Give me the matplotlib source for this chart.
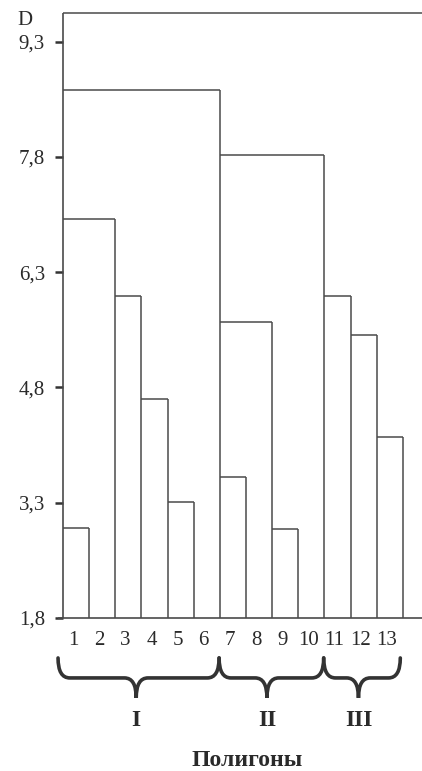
import numpy as np
import matplotlib
matplotlib.use("Agg")
import matplotlib.pyplot as plt
from matplotlib.path import Path
from matplotlib.patches import PathPatch

# --- data ---
objects = [str(i) for i in range(1, 14)]
heights = [2.97, 6.99, 5.99, 4.65, 3.31, 8.67, 3.64, 5.65, 2.96, 7.83, 5.99, 5.48, 4.15]
top_level = 9.67
y_ticks = [1.8, 3.3, 4.8, 6.3, 7.8, 9.3]
y_labels = ["1,8", "3,3", "4,8", "6,3", "7,8", "9,3"]
groups = ["I", "II", "III"]
group_spans = [(1, 6), (7, 10), (11, 13)]
y_name = "D"
x_name = "Полигоны"

LINE = "#4a4a4a"
TXT = "#2a2a2a"
SERIF = ["Liberation Serif", "DejaVu Serif"]
plt.rcParams["font.family"] = SERIF

base = y_ticks[0]
n = len(heights)
x_right = 13.73

fig = plt.figure(figsize=(4.22, 7.71), dpi=100)
ax = fig.add_axes([0.1493, 0.19844, 0.8507, 0.79507])
ax.set_xlim(0, x_right)
ax.set_ylim(base, 9.778)
for s in ax.spines.values():
    s.set_visible(False)

# ladder dendrogram: each object column rises to its joining level,
# the horizontal runs back to the last column that is at least as high
for i, h in enumerate(heights, start=1):
    start = 0
    for j in range(i - 1, 0, -1):
        if heights[j - 1] >= h:
            start = j
            break
    ax.vlines(i, base, h, color=LINE, lw=1.1, clip_on=False)
    ax.hlines(h, start, i, color=LINE, lw=1.1, clip_on=False)

ax.vlines(0, base, top_level, color=LINE, lw=1.2, clip_on=False)
ax.hlines(top_level, 0, x_right, color=LINE, lw=1.1, clip_on=False)
ax.hlines(base, -0.19, x_right, color=LINE, lw=1.2, clip_on=False)

# y axis
ax.set_yticks(y_ticks)
ax.set_yticklabels(y_labels, fontsize=15, color=TXT)
ax.tick_params(axis="y", length=6, width=1.8, color="#333333", pad=7)
ax.text(-1.45, 9.57, y_name, fontsize=15, color=TXT, ha="center", va="center", clip_on=False)

# x labels under each column
centers = np.arange(1, n + 1) - 0.5 - 0.12
ax.set_xticks(centers)
ax.set_xticklabels(objects, fontsize=15, color=TXT)
ax.tick_params(axis="x", length=0, pad=9)

# group braces
y_top, y_mid, y_tip = 1.28, 1.02, 0.76
r = 0.45
for (a, b), name in zip(group_spans, groups):
    x0 = a - 1 - (0.19 if a == 1 else 0.03)
    x1 = b - 0.03 if b < n else b - 0.1
    xm = (a - 1 + b) / 2 - 0.2
    verts = [(x0, y_top), (x0, y_mid), (x0 + r, y_mid),
             (xm - r, y_mid), (xm, y_mid), (xm, y_tip),
             (xm, y_mid), (xm + r, y_mid),
             (x1 - r, y_mid), (x1, y_mid), (x1, y_top)]
    codes = [Path.MOVETO, Path.CURVE3, Path.CURVE3,
             Path.LINETO, Path.CURVE3, Path.CURVE3,
             Path.CURVE3, Path.CURVE3,
             Path.LINETO, Path.CURVE3, Path.CURVE3]
    ax.add_patch(PathPatch(Path(verts, codes), fill=False, lw=2.6,
                           edgecolor="#333333", clip_on=False, capstyle="round"))
    ax.text(xm, 0.47, name, fontsize=17, fontweight="bold", color=TXT,
            ha="center", va="center", clip_on=False)

ax.text(7.05, -0.06, x_name, fontsize=17, fontweight="bold", color=TXT,
        ha="center", va="center", clip_on=False)

fig.savefig("out.png", dpi=100)
